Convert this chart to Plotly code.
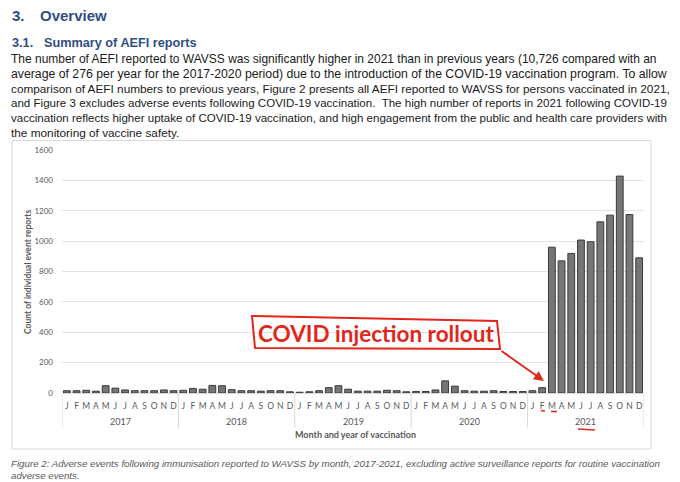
import plotly.graph_objects as go

years = ["2017", "2018", "2019", "2020", "2021"]
months = ["J", "F", "M", "A", "M", "J", "J", "A", "S", "O", "N", "D"]

counts_2017 = [15, 15, 18, 12, 48, 32, 20, 15, 15, 15, 20, 15]
counts_2018 = [18, 30, 25, 50, 48, 22, 15, 15, 12, 15, 15, 8]
counts_2019 = [5, 8, 15, 35, 48, 25, 12, 12, 12, 18, 15, 8]
counts_2020 = [10, 10, 20, 80, 45, 15, 12, 12, 15, 10, 10, 10]
counts_2021 = [15, 35, 960, 870, 919, 1007, 996, 1127, 1171, 1428, 1175, 890]

y_ticks = [0, 200, 400, 600, 800, 1000, 1200, 1400, 1600]

heading1_num = "3."
heading1 = "Overview"
heading2_num = "3.1."
heading2 = "Summary of AEFI reports"
paragraph = [
    "The number of AEFI reported to WAVSS was significantly higher in 2021 than in previous years (10,726 compared with an",
    "average of 276 per year for the 2017-2020 period) due to the introduction of the COVID-19 vaccination program. To allow",
    "comparison of AEFI numbers to previous years, Figure 2 presents all AEFI reported to WAVSS for persons vaccinated in 2021,",
    "and Figure 3 excludes adverse events following COVID-19 vaccination.  The high number of reports in 2021 following COVID-19",
    "vaccination reflects higher uptake of COVID-19 vaccination, and high engagement from the public and health care providers with",
    "the monitoring of vaccine safety.",
]
caption = [
    "Figure 2: Adverse events following immunisation reported to WAVSS by month, 2017-2021, excluding active surveillance reports for routine vaccination",
    "adverse events.",
]
callout = "COVID injection rollout"
x_title = "Month and year of vaccination"
y_title = "Count of individual event reports"

all_counts = counts_2017 + counts_2018 + counts_2019 + counts_2020 + counts_2021
n = len(all_counts)
x_idx = list(range(n))
tick_text = months * len(years)

# page body has an 8px margin: figure sits at (8, 8) in the window
OFF = 8
W, H = 680 - OFF, 482 - OFF
PX0, PX1, PY0, PY1 = 62, 644, 150, 393   # plot area in window pixels
L, R, T, B = PX0 - OFF, W - (PX1 - OFF), PY0 - OFF, H - (PY1 - OFF)


def px(x):
    return (x - PX0) / (PX1 - PX0)


def py(y):
    return (PY1 - y) / (PY1 - PY0)


GREY = "#595959"
RED = "#e1261c"
BLUE = "#2F4F82"

fig = go.Figure()
fig.add_trace(go.Bar(
    x=x_idx,
    y=all_counts,
    marker=dict(color="#767676", line=dict(color="#3a3a3a", width=1)),
    hovertext=[f"{m} {y}" for y in years for m in months],
))

fig.update_layout(
    width=W, height=H,
    margin=dict(l=L, r=R, t=T, b=B, autoexpand=False),
    paper_bgcolor="white", plot_bgcolor="white",
    showlegend=False,
    bargap=0.3,
    font=dict(family="Lato, Liberation Sans, sans-serif", color=GREY),
    xaxis=dict(
        range=[-0.5, n - 0.5],
        tickvals=x_idx, ticktext=tick_text,
        tickfont=dict(size=8.5, color=GREY),
        showline=True, linecolor="#d9d9d9", linewidth=1,
        showgrid=False, zeroline=False, ticks="", ticklabelstandoff=5,
        fixedrange=True,
    ),
    yaxis=dict(
        range=[0, 1600], tickvals=y_ticks,
        tickfont=dict(size=8, color=GREY),
        gridcolor="#e3e3e3", zeroline=False, showline=False,
        ticks="", ticklabelstandoff=8,
    ),
)

ann = []
hfont = "Liberation Sans, Arial"
ann.append(dict(text="<b>" + heading1_num + "</b>", x=px(10), y=py(15), xanchor="left", yanchor="middle",
                font=dict(family=hfont, size=15, color=BLUE)))
ann.append(dict(text="<b>" + heading1 + "</b>", x=px(38), y=py(15), xanchor="left", yanchor="middle",
                font=dict(family=hfont, size=15, color=BLUE)))
ann.append(dict(text="<b>" + heading2_num + "</b>", x=px(10), y=py(43), xanchor="left", yanchor="middle",
                font=dict(family=hfont, size=12.7, color=BLUE)))
ann.append(dict(text="<b>" + heading2 + "</b>", x=px(42), y=py(43), xanchor="left", yanchor="middle",
                font=dict(family=hfont, size=12.7, color=BLUE)))
line_y = [59.3, 74.0, 88.7, 103.4, 118.1, 132.8]
line_size = [11.99, 12.28, 11.79, 11.57, 11.55, 11.8]
for t, yy, sz in zip(paragraph, line_y, line_size):
    ann.append(dict(text=t, x=px(9), y=py(yy), xanchor="left", yanchor="middle",
                    font=dict(family="Liberation Sans, Arial", size=sz, color="#1a1a1a")))
cap_y = [463, 475]
for t, yy in zip(caption, cap_y):
    ann.append(dict(text="<i>" + t + "</i>", x=px(9), y=py(yy), xanchor="left", yanchor="middle",
                    font=dict(family="Liberation Sans, Arial", size=9.72, color=GREY)))
# year labels under the month letters
for i, yr in enumerate(years):
    ann.append(dict(text=yr, x=i * 12 + 5.5, xref="x", y=py(421), xanchor="center", yanchor="middle",
                    font=dict(size=9, color=GREY)))
# axis titles
ann.append(dict(text="<b>" + x_title + "</b>", x=px(355), y=py(435), xanchor="center", yanchor="middle",
                font=dict(size=9, color=GREY)))
ann.append(dict(text="<b>" + y_title + "</b>", x=px(28), y=py(272), xanchor="center", yanchor="middle",
                textangle=-90, font=dict(size=8.5, color=GREY)))
# callout text
ann.append(dict(text="<b>" + callout + "</b>", x=px(376), y=py(333), xanchor="center", yanchor="middle",
                font=dict(family="Lato, Open Sans, sans-serif", size=22.5, color=RED)))
# arrow
ann.append(dict(text="", x=px(544), y=py(381), showarrow=True,
                ax=-44, ay=-31, arrowcolor=RED, arrowwidth=2, arrowhead=2, arrowsize=1))
for a in ann:
    a.setdefault("xref", "paper")
    a.setdefault("yref", "paper")
    a.setdefault("showarrow", False)
fig.update_layout(annotations=ann)

shapes = []
# outer chart frame
shapes.append(dict(type="rect", xref="paper", yref="paper", x0=px(12), x1=px(651), y0=py(449), y1=py(140.5),
                   line=dict(color="#d9d9d9", width=1), layer="below"))
# year dividers in the axis label area
for k in range(len(years) + 1):
    shapes.append(dict(type="line", xref="x", yref="paper", x0=k * 12 - 0.5, x1=k * 12 - 0.5,
                       y0=py(393), y1=py(428), line=dict(color="#d9d9d9", width=1)))
# hand-drawn box
box = [(252, 316), (497, 321), (500, 349), (255, 348)]
path = "M " + " L ".join(f"{px(a):.4f},{py(b):.4f}" for a, b in box) + " Z"
shapes.append(dict(type="path", xref="paper", yref="paper", path=path, line=dict(color=RED, width=2)))
# underlines
for (x0, y0, x1, y1) in [(541, 410.5, 545, 411), (551, 411.5, 557, 411.5), (578, 429, 595, 430)]:
    shapes.append(dict(type="line", xref="paper", yref="paper", x0=px(x0), y0=py(y0), x1=px(x1), y1=py(y1),
                       line=dict(color=RED, width=1.5)))
fig.update_layout(shapes=shapes)

fig.write_html("out.html")
